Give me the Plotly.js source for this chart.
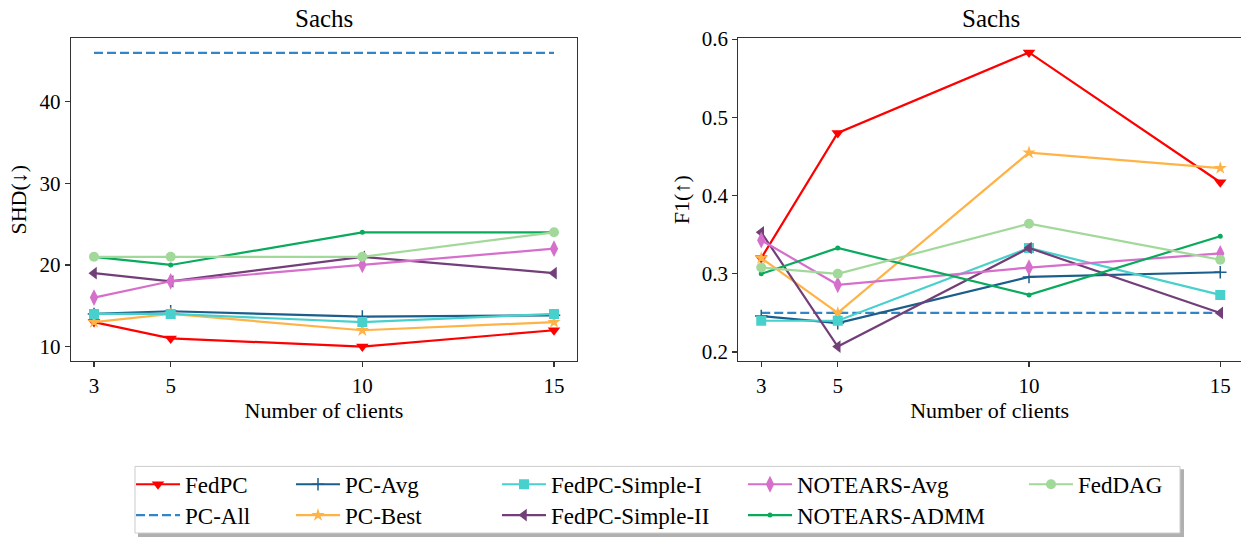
<!DOCTYPE html>
<html>
<head>
<meta charset="utf-8">
<script src="https://cdn.plot.ly/plotly-3.0.1.min.js"></script>
<style>html,body{margin:0;padding:0;background:#fff;}#chart{width:1241px;height:537px;}</style>
</head>
<body>
<div id="chart"></div>
<script>
// ---- data ----
const clients = [3, 5, 10, 15];
const xTicks = [3, 5, 10, 15];
const seriesNames = ["FedPC", "PC-All", "PC-Avg", "PC-Best", "FedPC-Simple-I", "FedPC-Simple-II", "NOTEARS-Avg", "NOTEARS-ADMM", "FedDAG"];

const shdFedPC = [13, 11, 10, 12];
const shdPCAll = [46, 46, 46, 46];
const shdPCAvg = [14, 14.33, 13.67, 13.83];
const shdPCBest = [13, 14, 12, 13];
const shdSimpleI = [14, 14, 13, 14];
const shdSimpleII = [19, 18, 21, 19];
const shdNotearsAvg = [16, 18, 20, 22];
const shdNotearsADMM = [21, 20, 24, 24];
const shdFedDAG = [21, 21, 21, 24];

const f1FedPC = [0.320, 0.480, 0.583, 0.417];
const f1PCAll = [0.25, 0.25, 0.25, 0.25];
const f1PCAvg = [0.246, 0.237, 0.296, 0.302];
const f1PCBest = [0.320, 0.250, 0.455, 0.435];
const f1SimpleI = [0.240, 0.240, 0.333, 0.273];
const f1SimpleII = [0.353, 0.207, 0.333, 0.250];
const f1NotearsAvg = [0.343, 0.286, 0.308, 0.326];
const f1NotearsADMM = [0.300, 0.333, 0.273, 0.348];
const f1FedDAG = [0.308, 0.300, 0.364, 0.318];

const shdTicks = [10, 20, 30, 40];
const f1Ticks = [0.2, 0.3, 0.4, 0.5, 0.6];
const f1TickText = ["0.2", "0.3", "0.4", "0.5", "0.6"];

// ---- styles ----
const W = 1241, H = 537;
const FONT = "Liberation Serif";
const FS = 21;
const styles = [
  {color: "#ff0000", symbol: "triangle-down", size: 11, dash: "solid"},
  {color: "#3385c6", symbol: null, size: 0, dash: "9px,4px"},
  {color: "#1b5e8c", symbol: "cross-thin-open", size: 9, dash: "solid"},
  {color: "#ffb347", symbol: "star", size: 10, dash: "solid"},
  {color: "#48d1cc", symbol: "square", size: 10, dash: "solid"},
  {color: "#733f78", symbol: "triangle-left", size: 11, dash: "solid"},
  {color: "#d66fcb", symbol: "diamond-tall", size: 12, dash: "solid"},
  {color: "#09aa5c", symbol: "circle", size: 5, dash: "solid"},
  {color: "#a2d99a", symbol: "circle", size: 10, dash: "solid"}
];
const shdData = [shdFedPC, shdPCAll, shdPCAvg, shdPCBest, shdSimpleI, shdSimpleII, shdNotearsAvg, shdNotearsADMM, shdFedDAG];
const f1Data = [f1FedPC, f1PCAll, f1PCAvg, f1PCBest, f1SimpleI, f1SimpleII, f1NotearsAvg, f1NotearsADMM, f1FedDAG];

// legend placement (column-major like the original, 5 columns x 2 rows)
const legCols = [141, 301, 507, 753, 1034];
const legRows = [487, 518];

function trace(i, ys, xa, ya, show) {
  const s = styles[i];
  const t = {
    x: clients, y: ys, xaxis: xa, yaxis: ya, name: seriesNames[i],
    type: "scatter", mode: s.symbol ? "lines+markers" : "lines",
    line: {color: s.color, width: 2.2, dash: s.dash},
    showlegend: show, legend: i === 0 ? "legend" : "legend" + (i + 1)
  };
  if (s.symbol) {
    t.marker = {symbol: s.symbol, size: s.size, color: s.color,
      line: {color: s.color, width: s.symbol === "cross-thin-open" ? 1.5 : 0}};
  }
  return t;
}
const data = [];
for (let i = 0; i < 9; i++) data.push(trace(i, shdData[i], "x", "y", true));
for (let i = 0; i < 9; i++) data.push(trace(i, f1Data[i], "x2", "y2", false));

const yDom = [(H - 363.3) / H, (H - 38.3) / H];
const axCommon = {
  showline: true, linecolor: "#333", linewidth: 1.2, ticks: "outside", ticklen: 5,
  tickcolor: "#333", tickwidth: 1.2, showgrid: false, zeroline: false,
  tickfont: {family: FONT, size: FS, color: "#000"}
};
const layout = {
  width: W, height: H, margin: {l: 0, r: 0, t: 0, b: 0},
  paper_bgcolor: "#fff", plot_bgcolor: "#fff",
  font: {family: FONT, size: FS, color: "#000"},
  xaxis: Object.assign({}, axCommon, {domain: [71 / W, 577 / W], range: [2.4, 15.6], tickvals: xTicks, mirror: true, anchor: "y",
    title: {text: "Number of clients", font: {family: FONT, size: 22}, standoff: 4}}),
  yaxis: Object.assign({}, axCommon, {domain: yDom, range: [8.2, 47.8], tickvals: shdTicks, mirror: true, anchor: "x",
    title: {text: "SHD(↓)", font: {family: FONT, size: 22}, standoff: 6}}),
  xaxis2: Object.assign({}, axCommon, {domain: [738.3 / W, 1], range: [2.4, 2.4 + (W - 738.3) / 38.25], tickvals: xTicks, mirror: true, anchor: "y2",
    title: {text: "Number of clients", font: {family: FONT, size: 22}, standoff: 4}}),
  yaxis2: Object.assign({}, axCommon, {domain: yDom, range: [0.1882, 0.6013], tickvals: f1Ticks, ticktext: f1TickText, mirror: false, anchor: "x2",
    title: {text: "F1(↑)", font: {family: FONT, size: 22}, standoff: 6}}),
  annotations: [
    {text: "Sachs", xref: "paper", yref: "paper", x: 324 / W, y: (H - 19) / H, xanchor: "center", yanchor: "middle", showarrow: false, font: {family: FONT, size: 25}},
    {text: "Sachs", xref: "paper", yref: "paper", x: 991 / W, y: (H - 19) / H, xanchor: "center", yanchor: "middle", showarrow: false, font: {family: FONT, size: 25}}
  ],
  shapes: [
    {type: "rect", xref: "paper", yref: "paper", x0: 138 / W, x1: 1184 / W, y0: (H - 540) / H, y1: (H - 472) / H, fillcolor: "#b0b0b0", line: {width: 0}, layer: "below"},
    {type: "rect", xref: "paper", yref: "paper", x0: 135 / W, x1: 1180 / W, y0: (H - 536) / H, y1: (H - 469) / H, fillcolor: "#fff", line: {color: "#cccccc", width: 1}, layer: "below"}
  ]
};
// one small legend per entry, placed on the 5x2 grid
for (let i = 0; i < 9; i++) {
  const col = Math.floor(i / 2), row = i % 2;
  const key = i === 0 ? "legend" : "legend" + (i + 1);
  layout[key] = {
    x: (legCols[col] - 10) / W, y: (H - legRows[row]) / H, xanchor: "left", yanchor: "middle",
    xref: "paper", yref: "paper", orientation: "v", bgcolor: "rgba(0,0,0,0)", borderwidth: 0,
    font: {family: FONT, size: 23, color: "#000"}, itemwidth: 44
  };
}
Plotly.newPlot("chart", data, layout, {staticPlot: true, displayModeBar: false});
</script>
</body>
</html>
